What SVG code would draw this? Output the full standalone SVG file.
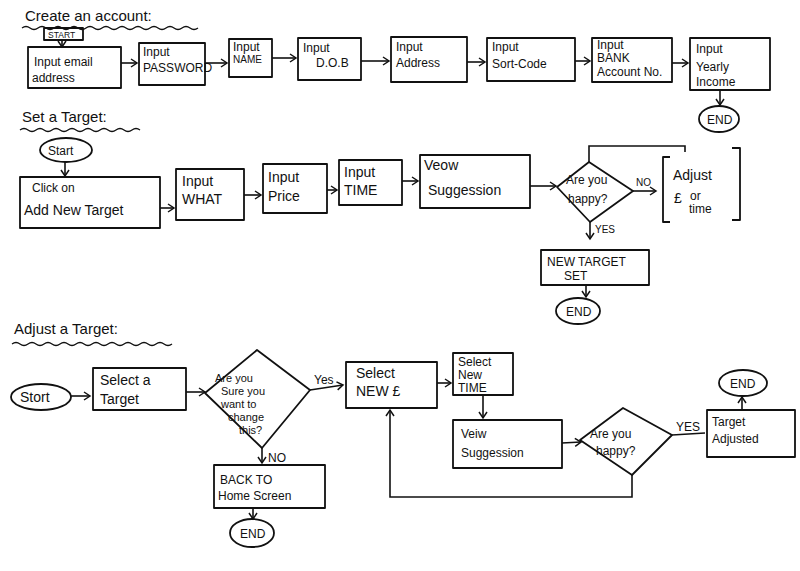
<svg xmlns="http://www.w3.org/2000/svg" width="800" height="571" viewBox="0 0 800 571">
<style>
.b{fill:none;stroke:#111;stroke-width:1.8;stroke-linejoin:round}
.c{fill:none;stroke:#111;stroke-width:1.6;marker-end:url(#ah)}
.l{fill:none;stroke:#111;stroke-width:1.6}
.w{fill:none;stroke:#111;stroke-width:1.3}
text{font-family:"Liberation Sans","DejaVu Sans",sans-serif;fill:#111;font-size:12px}
.s{font-size:10px}
.xs{font-size:8.5px}
.d{font-size:11px}
.m{font-size:14px}
.h{font-size:15px}
</style>
<defs>
<marker id="ah" markerWidth="9" markerHeight="10" refX="7" refY="5" orient="auto" markerUnits="userSpaceOnUse">
<path d="M1,1 L7,5 L1,9" fill="none" stroke="#111" stroke-width="1.5"/>
</marker>
</defs>
<rect width="800" height="571" fill="#fff"/>

<!-- Titles -->
<g id="title1"><text class="h" x="25" y="21">Create an account:</text>
<path class="w" d="M22,28 q4,-3 8,0 t8,0 t8,0 t8,0 t8,0 t8,0 t8,0 t8,0 t8,0 t8,0 t8,0 t8,0 t8,0 t8,0 t8,0 t8,0 t8,0 t8,0 t8,0 t8,0 t8,0 t8,0"/></g>
<g id="title2"><text class="h" x="22" y="122">Set a Target:</text>
<path class="w" d="M20,130 q4,-3 8,0 t8,0 t8,0 t8,0 t8,0 t8,0 t8,0 t8,0 t8,0 t8,0 t8,0 t8,0 t8,0 t8,0 t8,0"/></g>
<g id="title3"><text class="h" x="14" y="334">Adjust a Target:</text>
<path class="w" d="M12,344 q4,-3 8,0 t8,0 t8,0 t8,0 t8,0 t8,0 t8,0 t8,0 t8,0 t8,0 t8,0 t8,0 t8,0 t8,0 t8,0 t8,0 t8,0 t8,0 t8,0 t8,0"/></g>

<!-- Row 1 nodes -->
<g id="start1"><rect class="b" x="44" y="28" width="39" height="12"/><text class="xs" x="48" y="37.5">START</text></g>
<g id="email"><rect class="b" x="28" y="47" width="93" height="41"/><text x="34" y="66">Input email</text><text x="32" y="82">address</text></g>
<g id="password"><rect class="b" x="139" y="43" width="66" height="42"/><text x="143" y="56">Input</text><text x="143" y="72">PASSWORD</text></g>
<g id="name"><rect class="b" x="229" y="39" width="43" height="38"/><text x="233" y="51">Input</text><text class="s" x="233" y="63">NAME</text></g>
<g id="dob"><rect class="b" x="298" y="38" width="63" height="42"/><text x="303" y="52">Input</text><text x="316" y="67">D.O.B</text></g>
<g id="address"><rect class="b" x="391" y="37" width="76" height="45"/><text x="396" y="51">Input</text><text x="396" y="67">Address</text></g>
<g id="sortcode"><rect class="b" x="487" y="38" width="88" height="43"/><text x="492" y="51">Input</text><text x="492" y="68">Sort-Code</text></g>
<g id="bank"><rect class="b" x="592" y="38" width="80" height="44"/><text x="597" y="49">Input</text><text x="597" y="62">BANK</text><text x="597" y="76">Account No.</text></g>
<g id="income"><rect class="b" x="690" y="38" width="80" height="52"/><text x="696" y="53">Input</text><text x="696" y="71">Yearly</text><text x="696" y="86">Income</text></g>
<g id="end1"><ellipse class="b" cx="719" cy="119" rx="20" ry="13"/><text x="707" y="124">END</text></g>

<!-- Row 2 nodes -->
<g id="start2"><ellipse class="b" cx="66" cy="150" rx="26" ry="12"/><text x="48" y="155">Start</text></g>
<g id="clickon"><rect class="b" x="20" y="177" width="140" height="51"/><text x="32" y="192">Click on</text><text class="m" x="24" y="215">Add New Target</text></g>
<g id="what"><rect class="b" x="176" y="169" width="68" height="51"/><text class="m" x="182" y="186">Input</text><text class="m" x="182" y="204">WHAT</text></g>
<g id="price"><rect class="b" x="263" y="164" width="64" height="49"/><text class="m" x="268" y="182">Input</text><text class="m" x="268" y="201">Price</text></g>
<g id="time"><rect class="b" x="339" y="160" width="63" height="45"/><text class="m" x="344" y="177">Input</text><text class="m" x="344" y="195">TIME</text></g>
<g id="view1"><rect class="b" x="420" y="155" width="110" height="53"/><text class="m" x="424" y="170">Veow</text><text class="m" x="428" y="195">Suggession</text></g>
<g id="happy1"><path class="b" d="M557,187 L589,162 L633,191 L590,222 Z"/><text x="566" y="184">Are you</text><text x="568" y="203">happy?</text></g>
<g id="adjust1"><path class="b" d="M670,157 L663,157 L663,222 L670,222 M732,148 L740,148 L740,220 L732,220"/><text class="m" x="673" y="180">Adjust</text><text class="m" x="674" y="203">£</text><text x="690" y="200">or</text><text x="689" y="213">time</text></g>
<g id="newtarget"><rect class="b" x="541" y="250" width="108" height="35"/><text x="547" y="266">NEW TARGET</text><text x="564" y="280">SET</text></g>
<g id="end2"><ellipse class="b" cx="578" cy="311" rx="22" ry="13"/><text x="566" y="316">END</text></g>

<!-- Row 3 nodes -->
<g id="start3"><ellipse class="b" cx="41" cy="397" rx="30" ry="13"/><text class="m" x="20" y="402">Stort</text></g>
<g id="select"><rect class="b" x="93" y="368" width="93" height="42"/><text class="m" x="100" y="385">Select a</text><text class="m" x="100" y="404">Target</text></g>
<g id="sure"><path class="b" d="M205,393 L257,350 L310,390 L262,448 Z"/><text class="d" x="215" y="382">Are you</text><text class="d" x="221" y="395">Sure you</text><text class="d" x="221" y="408">want to</text><text class="d" x="228" y="421">change</text><text class="d" x="239" y="434">this?</text></g>
<g id="back"><rect class="b" x="214" y="465" width="111" height="43"/><text x="220" y="484">BACK TO</text><text x="218" y="500">Home Screen</text></g>
<g id="end3"><ellipse class="b" cx="252" cy="533" rx="22" ry="14"/><text x="240" y="538">END</text></g>
<g id="selectnew"><rect class="b" x="346" y="362" width="91" height="46"/><text class="m" x="356" y="378">Select</text><text class="m" x="356" y="396">NEW £</text></g>
<g id="selecttime"><rect class="b" x="453" y="353" width="60" height="42"/><text x="458" y="366">Select</text><text x="458" y="379">New</text><text x="458" y="392">TIME</text></g>
<g id="view2"><rect class="b" x="453" y="420" width="109" height="48"/><text x="461" y="438">Veiw</text><text x="461" y="457">Suggession</text></g>
<g id="happy2"><path class="b" d="M580,440 L623,408 L672,435 L632,475 Z"/><text x="590" y="438">Are you</text><text x="596" y="455">happy?</text></g>
<g id="adjusted"><rect class="b" x="707" y="410" width="88" height="47"/><text x="712" y="426">Target</text><text x="712" y="443">Adjusted</text></g>
<g id="end4"><ellipse class="b" cx="743" cy="383" rx="24" ry="13"/><text x="730" y="388">END</text></g>

<!-- Connectors -->
<g id="connectors">
<path class="c" d="M62,40 L62,47"/>
<path class="c" d="M121,63 L137,63"/>
<path class="c" d="M205,63 L227,63"/>
<path class="c" d="M272,58 L296,58"/>
<path class="c" d="M361,61 L389,61"/>
<path class="c" d="M467,62 L485,62"/>
<path class="c" d="M575,61 L590,61"/>
<path class="c" d="M672,63 L688,63"/>
<path class="c" d="M720,90 L720,105"/>
<path class="c" d="M65,162 L65,176"/>
<path class="c" d="M160,208 L174,208"/>
<path class="c" d="M244,195 L261,195"/>
<path class="c" d="M327,190 L337,190"/>
<path class="c" d="M402,181 L418,181"/>
<path class="c" d="M530,186 L556,186"/>
<path class="l" d="M589,162 L589,146 L685,146 L685,152"/>
<path class="c" d="M633,191 L656,191"/>
<text class="s" x="636" y="186">NO</text>
<path class="c" d="M590,222 L590,239"/>
<text class="s" x="595" y="233">YES</text>
<path class="c" d="M586,285 L586,297"/>
<path class="c" d="M71,396 L90,396"/>
<path class="c" d="M186,392 L205,392"/>
<path class="c" d="M310,390 L343,385"/>
<text x="314" y="384">Yes</text>
<path class="c" d="M262,448 L262,463"/>
<text x="268" y="462">NO</text>
<path class="c" d="M253,508 L253,519"/>
<path class="c" d="M437,383 L451,383"/>
<path class="c" d="M483,395 L483,418"/>
<path class="c" d="M562,443 L581,442"/>
<path class="c" d="M632,475 L632,497 L390,497 L390,410"/>
<path class="l" d="M672,435 L705,433"/>
<text x="676" y="431">YES</text>
<path class="c" d="M742,410 L742,397"/>
</g>
</svg>
